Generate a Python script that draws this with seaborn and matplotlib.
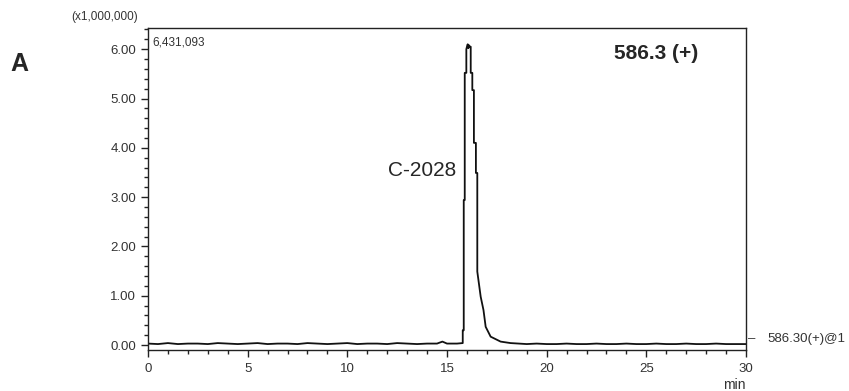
import matplotlib
matplotlib.use("Agg")
import matplotlib.pyplot as plt
import seaborn as sns
from matplotlib.ticker import MultipleLocator, FormatStrFormatter

# chromatogram trace, 586.3 (+), intensity in millions of counts
time_min = [0.0, 0.5, 1.0, 1.5, 2.0, 2.5, 3.0, 3.5, 4.0, 4.5, 5.0, 5.5,
            6.0, 6.5, 7.0, 7.5, 8.0, 8.5, 9.0, 9.5, 10.0, 10.5, 11.0, 11.5,
            12.0, 12.5, 13.0, 13.5, 14.0, 14.5, 14.77, 15.0, 15.5, 15.79,
            15.79, 15.84, 15.84, 15.89, 15.89, 15.97, 15.97, 16.02, 16.04,
            16.07, 16.10, 16.15, 16.19, 16.19, 16.27, 16.27, 16.35, 16.35,
            16.45, 16.45, 16.52, 16.52, 16.69, 16.83, 16.94, 17.19, 17.69,
            18.19, 18.6, 19.0, 19.5, 20.0, 20.5, 21.0, 21.5,
            22.0, 22.5, 23.0, 23.5, 24.0, 24.5, 25.0, 25.5, 26.0, 26.5, 27.0,
            27.5, 28.0, 28.5, 29.0, 29.5, 30.0]
intensity = [0.03, 0.02, 0.04, 0.02, 0.03, 0.03, 0.02, 0.04, 0.03, 0.02, 0.03, 0.04,
             0.02, 0.03, 0.03, 0.02, 0.04, 0.03, 0.02, 0.03, 0.04, 0.02, 0.03, 0.03,
             0.02, 0.04, 0.03, 0.02, 0.03, 0.03, 0.07, 0.03, 0.03, 0.04,
             0.30, 0.30, 2.94, 2.94, 5.52, 5.52, 6.00, 6.08, 6.10,
             6.02, 6.08, 6.05, 6.05, 5.52, 5.52, 5.17, 5.17, 4.10,
             4.10, 3.49, 3.49, 1.49, 0.98, 0.71, 0.37, 0.17, 0.07,
             0.04, 0.03, 0.02, 0.03, 0.02, 0.02, 0.03, 0.02,
             0.02, 0.03, 0.02, 0.02, 0.03, 0.02, 0.02, 0.03, 0.02, 0.02, 0.03,
             0.02, 0.02, 0.03, 0.02, 0.02, 0.02]

sns.set_style("ticks")
plt.rcParams['font.family'] = ['Liberation Sans', 'DejaVu Sans']

fig = plt.figure(figsize=(8.49, 3.91), dpi=100)
ax = fig.add_axes([0.1743, 0.1049, 0.7044, 0.8235])

sns.lineplot(x=time_min, y=intensity, ax=ax, color="#111111", linewidth=1.3,
             estimator=None, sort=False)

ax.set_xlim(0, 30)
ax.set_ylim(-0.10, 6.43)
ax.xaxis.set_major_locator(MultipleLocator(5))
ax.xaxis.set_minor_locator(MultipleLocator(1))
ax.yaxis.set_major_locator(MultipleLocator(1))
ax.yaxis.set_minor_locator(MultipleLocator(0.2))
ax.yaxis.set_major_formatter(FormatStrFormatter('%.2f'))
ax.tick_params(which='major', length=5, width=1, colors='#222222', labelsize=9.5,
               labelcolor='#333333')
ax.tick_params(axis='y', which='major', pad=3.5)
ax.tick_params(axis='x', which='major', pad=4.5)
ax.tick_params(which='minor', length=3, width=1, colors='#222222')
for s in ax.spines.values():
    s.set_visible(True)
    s.set_color('#222222')
    s.set_linewidth(1)

ax.set_xlabel('min', loc='right', fontsize=10, color='#333333', labelpad=2)
ax.set_ylabel('')

fig.text(138 / 849, 1 - 17 / 391, '(x1,000,000)', fontsize=8.5, color='#333333',
         va='center', ha='right')
ax.text(0.008, 0.975, '6,431,093', transform=ax.transAxes, fontsize=8.5,
        color='#333333', va='top', ha='left')
ax.text(0.7786, 0.922, '586.3 (+)', transform=ax.transAxes, fontsize=15,
        fontweight='bold', va='center', ha='left')
ax.text(13.73, 3.55, 'C-2028', fontsize=15, va='center', ha='center')
fig.text(10 / 849, 1 - 64 / 391, 'A', fontsize=18, fontweight='bold',
         va='center', ha='left')
fig.text(748 / 849, 1 - 339 / 391, '–', fontsize=9.5,
         color='#333333', va='center', ha='left')
fig.text(767 / 849, 1 - 339 / 391, '586.30(+)@1', fontsize=9.5,
         color='#333333', va='center', ha='left')

fig.savefig('out.png', dpi=100)
